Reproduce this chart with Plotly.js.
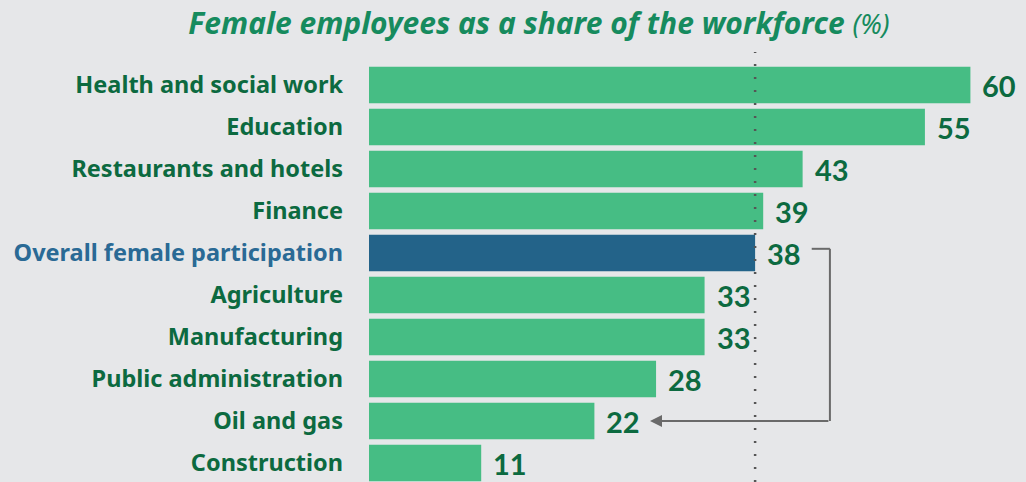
<!DOCTYPE html>
<html>
<head>
<meta charset="utf-8">
<script src="https://cdn.plot.ly/plotly-3.0.1.min.js"></script>
<style>html,body{margin:0;padding:0;background:#e6e7e9;}#chart{width:1026px;height:482px;}</style>
</head>
<body>
<div id="chart"></div>
<script>
const categories = ["Health and social work","Education","Restaurants and hotels","Finance","Overall female participation","Agriculture","Manufacturing","Public administration","Oil and gas","Construction"];
const shares = [59.5, 55.0, 42.9, 39.0, 38.2, 33.2, 33.2, 28.4, 22.3, 11.1];
const valueLabels = ["60","55","43","39","38","33","33","28","22","11"];
const overallName = "Overall female participation";
const compareName = "Oil and gas";

const green = "#46bd84", blue = "#236389", darkGreen = "#0c6a40", labelBlue = "#2a6a95";
const overallIdx = categories.indexOf(overallName);
const compareIdx = categories.indexOf(compareName);
const overallVal = shares[overallIdx];

const barColors = categories.map(c => c === overallName ? blue : green);
const ticktext = categories.map(c => c === overallName ? '<span style="color:' + labelBlue + '">' + c + '</span>' : c);

const trace = {
  type: "bar", orientation: "h",
  x: shares, y: categories.map((c,i)=>i),
  marker: {color: barColors, line: {width: 0}},
  hoverinfo: "none"
};

const annotations = shares.map((v,i)=>({
  x: v, y: i, xref: "x", yref: "y", text: "<b>" + valueLabels[i] + "</b>",
  showarrow: false, xanchor: "left", yanchor: "middle", xshift: 10,
  font: {family: "Lato", size: 29, color: darkGreen}
}));
annotations.push({
  x: 27.8, y: compareIdx, xref: "x", yref: "y",
  ax: 45.6, ay: compareIdx, axref: "x", ayref: "y",
  showarrow: true, arrowhead: 2, arrowsize: 1.2, arrowwidth: 2, arrowcolor: "#6a6a6a", text: ""
});

const shapes = [
  {type: "line", xref: "x", yref: "paper", x0: overallVal, x1: overallVal, y0: 0, y1: 1 + 12/418,
   line: {color: "#555", width: 2.5, dash: "2px,11px"}},
  {type: "line", xref: "x", yref: "y", x0: 43.8, x1: 45.6, y0: overallIdx - 0.1, y1: overallIdx - 0.1,
   line: {color: "#6a6a6a", width: 2}},
  {type: "line", xref: "x", yref: "y", x0: 45.6, x1: 45.6, y0: overallIdx - 0.1, y1: compareIdx,
   line: {color: "#6a6a6a", width: 2}}
];

const layout = {
  width: 1026, height: 482,
  margin: {l: 369, r: 0, t: 64, b: 0},
  paper_bgcolor: "#e6e7e9", plot_bgcolor: "#e6e7e9",
  showlegend: false, bargap: 0.13,
  title: {
    text: '<i><b>Female employees as a share of the workforce</b> <span style="font-size:27px">(%)</span></i>',
    font: {family: "Noto Sans", size: 30, color: "#168b5e"},
    xref: "container", x: 539/1026, xanchor: "center",
    yref: "container", y: 1 - 23/482, yanchor: "middle"
  },
  xaxis: {range: [0, 65], showgrid: false, zeroline: false, showticklabels: false, ticks: "", fixedrange: true},
  yaxis: {
    range: [9.452, -0.5], tickmode: "array", tickvals: categories.map((c,i)=>i), ticktext: ticktext,
    showgrid: false, zeroline: false, ticks: "", ticklabelstandoff: 25,
    tickfont: {family: "Noto Sans", size: 23.5, color: darkGreen, weight: "bold"}
  },
  annotations: annotations,
  shapes: shapes
};

Plotly.newPlot("chart", [trace], layout, {displayModeBar: false, staticPlot: true});
</script>
</body>
</html>
